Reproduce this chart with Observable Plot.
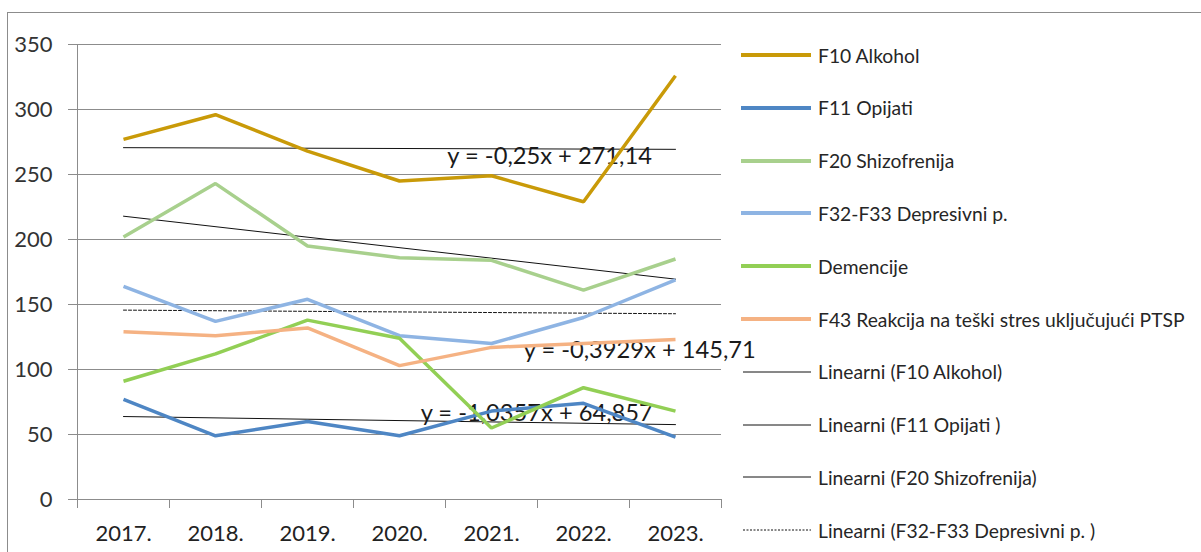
<!DOCTYPE html>
<html>
<head>
<meta charset="utf-8">
<script src="https://cdn.jsdelivr.net/npm/d3@7"></script>
<script src="https://cdn.jsdelivr.net/npm/@observablehq/plot@0.6"></script>
<style>
  html, body { margin: 0; padding: 0; background: #fff; }
  #wrap { position: relative; width: 1201px; height: 552px; overflow: hidden; font-family: Lato, sans-serif; }
  #frame { position: absolute; left: 7px; top: 12px; right: -5px; bottom: -5px; border-top: 1px solid #8c8c8c; border-left: 1px solid #8c8c8c; }
  #chart { position: absolute; left: 0; top: 0; }
  #legend { position: absolute; left: 0; top: 0; width: 1201px; height: 552px; pointer-events: none; }
  .item { position: absolute; left: 741px; height: 24px; display: flex; align-items: center; white-space: nowrap; }
  .sw { width: 70px; margin-right: 7px; }
  .lab { font-size: 19.3px; color: #262626; }
</style>
</head>
<body>
<div id="wrap">
  <div id="frame"></div>
  <div id="chart"></div>
  <div id="legend"></div>
</div>
<script>
// ---- data ----
const years = ["2017.", "2018.", "2019.", "2020.", "2021.", "2022.", "2023."];
const alkohol      = [277, 296, 268, 245, 249, 229, 326];
const opijati      = [77, 49, 60, 49, 68, 74, 48];
const shizofrenija = [202, 243, 195, 186, 184, 161, 185];
const depresivni   = [164, 137, 154, 126, 120, 140, 169];
const demencije    = [91, 112, 138, 124, 55, 86, 68];
const f43          = [129, 126, 132, 103, 117, 120, 123];

const seriesNames = [
  "F10 Alkohol",
  "F11 Opijati",
  "F20 Shizofrenija",
  "F32-F33 Depresivni p.",
  "Demencije",
  "F43 Reakcija na teški stres uključujući PTSP"
];
const seriesValues = [alkohol, opijati, shizofrenija, depresivni, demencije, f43];
const seriesColors = ["#C99A08", "#4E86C4", "#A8D08D", "#8EB4E3", "#92CF55", "#F5B283"];

// trendlines (Excel "Linearni") for these series indices
const trendSeries = [0, 1, 2, 3];
const trendNames = ["Linearni (F10 Alkohol)", "Linearni (F11 Opijati )", "Linearni (F20 Shizofrenija)", "Linearni (F32-F33 Depresivni p. )"];
const trendDash = [null, null, null, "3,2"];

// equation labels shown on the chart
const eqText = ["y = -0,25x + 271,14", "y = -1,0357x + 64,857", "y = -0,3929x + 145,71"];
const eqX = [4.52, 4.23, 5.35];
const eqY = [264, 66, 115];

const yTicks = [0, 50, 100, 150, 200, 250, 300, 350];

// ---- build tables ----
const rows = [];
seriesNames.forEach((name, s) => {
  seriesValues[s].forEach((v, i) => rows.push({series: name, s, x: i + 1, y: v}));
});
const idx = years.map((_, i) => i + 1);
const bounds = [0.5, ...idx.map(i => i + 0.5)];
const eqs = eqText.map((t, i) => ({t, x: eqX[i], y: eqY[i]}));

const marks = [
  Plot.gridY({ticks: yTicks, stroke: "#8c8c8c", strokeOpacity: 1}),
  Plot.axisY({ticks: yTicks, tickSize: 9, tickPadding: 16, stroke: "#8c8c8c", fill: "#333", fontSize: 22, label: null}),
  Plot.ruleX([0.5], {y1: 350, y2: 0, stroke: "#8c8c8c"}),
  Plot.axisX({ticks: bounds, tickSize: 9, stroke: "#8c8c8c", tickFormat: () => "", label: null}),
  Plot.axisX({ticks: idx, tickSize: 0, tickPadding: 26, fill: "#222", fontSize: 22, tickFormat: i => years[i - 1], label: null})
];

trendSeries.forEach((s, k) => {
  marks.push(Plot.linearRegressionY(rows.filter(d => d.s === s), {
    x: "x", y: "y", ci: 0, stroke: "#111", strokeWidth: 1,
    strokeDasharray: trendDash[k] || undefined
  }));
});

marks.push(Plot.text(eqs, {x: "x", y: "y", text: "t", textAnchor: "start", fontSize: 23.7, fill: "#1a1a1a"}));

seriesNames.forEach((name, s) => {
  marks.push(Plot.line(rows.filter(d => d.s === s), {x: "x", y: "y", stroke: seriesColors[s], strokeWidth: 3.5, strokeLinejoin: "miter", strokeLinecap: "butt"}));
});

const chart = Plot.plot({
  width: 1201,
  height: 552,
  marginLeft: 77,
  marginRight: 480,
  marginTop: 44,
  marginBottom: 53,
  style: {fontFamily: "Lato, sans-serif", fontSize: "22px", background: "transparent"},
  x: {type: "linear", domain: [0.5, 7.5], axis: null},
  y: {domain: [0, 350], axis: null},
  marks
});
document.getElementById("chart").appendChild(chart);

// ---- legend (right side) ----
const legend = document.getElementById("legend");
const legendItems = [
  ...seriesNames.map((n, s) => ({label: n, color: seriesColors[s], width: 4, dash: null})),
  ...trendNames.map((n, k) => ({label: n, color: "#111", width: 1, dash: trendDash[k]}))
];
const rowStart = 55, rowStep = 52.8;
legendItems.forEach((it, i) => {
  const div = document.createElement("div");
  div.className = "item";
  div.style.top = (rowStart + i * rowStep - 12) + "px";
  const sw = document.createElementNS("http://www.w3.org/2000/svg", "svg");
  sw.setAttribute("class", "sw");
  sw.setAttribute("width", 70);
  sw.setAttribute("height", 8);
  const ln = document.createElementNS("http://www.w3.org/2000/svg", "line");
  ln.setAttribute("x1", it.width > 1 ? 0 : 2);
  ln.setAttribute("x2", 70);
  ln.setAttribute("y1", 4);
  ln.setAttribute("y2", 4);
  ln.setAttribute("stroke", it.color);
  ln.setAttribute("stroke-width", it.width);
  if (it.width > 1) ln.setAttribute("stroke-linecap", "round");
  if (it.dash) ln.setAttribute("stroke-dasharray", "2,1.5");
  sw.appendChild(ln);
  const lab = document.createElement("span");
  lab.className = "lab";
  lab.textContent = it.label;
  div.appendChild(sw);
  div.appendChild(lab);
  legend.appendChild(div);
});
</script>
</body>
</html>
